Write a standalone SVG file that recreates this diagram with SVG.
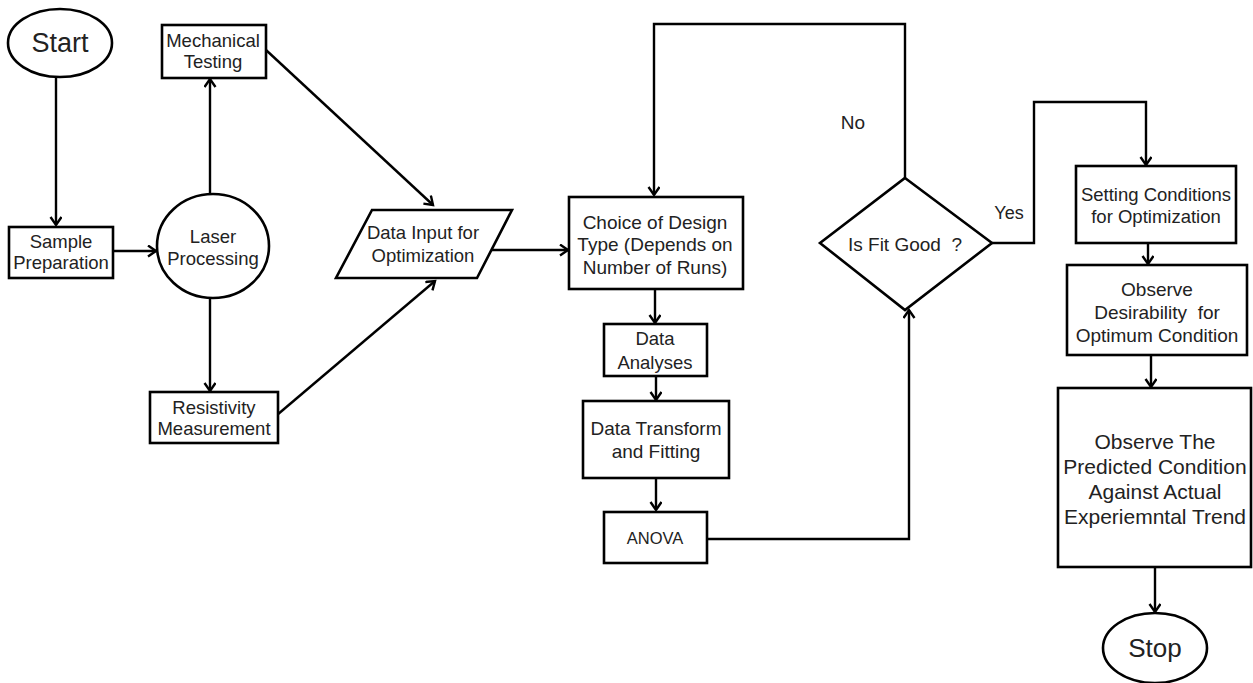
<svg xmlns="http://www.w3.org/2000/svg" width="1253" height="683" viewBox="0 0 1253 683">
<style>
.s{fill:#fff;stroke:#000;stroke-width:2.6}
.c{fill:none;stroke:#000;stroke-width:2.4}
text{font-family:"Liberation Sans",Arial,sans-serif;fill:#222;text-anchor:middle;font-size:18.5px}
</style>
<defs>
<marker id="a" markerUnits="userSpaceOnUse" markerWidth="14" markerHeight="14" refX="10" refY="6" orient="auto">
<path d="M2,0.5 L10,6 L2,11.5" fill="none" stroke="#000" stroke-width="2.4"/>
</marker>
</defs>
<rect width="1253" height="683" fill="#fff"/>
<g id="connectors">
<line class="c" x1="56" y1="77" x2="56" y2="225" marker-end="url(#a)"/>
<line class="c" x1="113" y1="251" x2="156" y2="251" marker-end="url(#a)"/>
<line class="c" x1="210" y1="195" x2="210" y2="79" marker-end="url(#a)"/>
<line class="c" x1="210" y1="298" x2="210" y2="391" marker-end="url(#a)"/>
<line class="c" x1="266" y1="50" x2="433" y2="205" marker-end="url(#a)"/>
<line class="c" x1="277" y1="415" x2="435" y2="281" marker-end="url(#a)"/>
<line class="c" x1="492" y1="250" x2="568" y2="250" marker-end="url(#a)"/>
<line class="c" x1="655" y1="290" x2="655" y2="323" marker-end="url(#a)"/>
<line class="c" x1="656" y1="376" x2="656" y2="400" marker-end="url(#a)"/>
<line class="c" x1="656" y1="478" x2="656" y2="510" marker-end="url(#a)"/>
<polyline class="c" points="707,539 909,539 909,310" marker-end="url(#a)"/>
<polyline class="c" points="905,178 905,24 654,24 654,195" marker-end="url(#a)"/>
<polyline class="c" points="992,243 1034,243 1034,102 1146,102 1146,165" marker-end="url(#a)"/>
<line class="c" x1="1148" y1="243" x2="1148" y2="264" marker-end="url(#a)"/>
<line class="c" x1="1151" y1="355" x2="1151" y2="387" marker-end="url(#a)"/>
<line class="c" x1="1155" y1="567" x2="1155" y2="612" marker-end="url(#a)"/>
<text x="853" y="129" style="font-size:19px">No</text>
<text x="1009" y="219" style="font-size:18px">Yes</text>
</g>
<g id="start">
<ellipse class="s" cx="60" cy="43" rx="52" ry="34"/>
<text x="60" y="52" style="font-size:27px">Start</text>
</g>
<g id="sample">
<rect class="s" x="9" y="227" width="104" height="51"/>
<text x="61" y="248">Sample</text>
<text x="61" y="269">Preparation</text>
</g>
<g id="laser">
<ellipse class="s" cx="213" cy="246" rx="56" ry="52"/>
<text x="213" y="243">Laser</text>
<text x="213" y="265">Processing</text>
</g>
<g id="mechanical">
<rect class="s" x="162" y="25" width="104" height="53"/>
<text x="213" y="47">Mechanical</text>
<text x="213" y="68">Testing</text>
</g>
<g id="resistivity">
<rect class="s" x="150" y="392" width="128" height="51"/>
<text x="214" y="414">Resistivity</text>
<text x="214" y="435">Measurement</text>
</g>
<g id="datainput">
<polygon class="s" points="372,210 512,210 477,278 336,278"/>
<text x="423" y="239">Data Input for</text>
<text x="423" y="262">Optimization</text>
</g>
<g id="choice">
<rect class="s" x="569" y="197" width="174" height="92"/>
<text x="655" y="229" style="font-size:19px">Choice of Design</text>
<text x="655" y="251" style="font-size:19px">Type (Depends on</text>
<text x="655" y="274" style="font-size:19px">Number of Runs)</text>
</g>
<g id="analyses">
<rect class="s" x="604" y="324" width="103" height="52"/>
<text x="655" y="345">Data</text>
<text x="655" y="369">Analyses</text>
</g>
<g id="transform">
<rect class="s" x="583" y="401" width="146" height="77"/>
<text x="656" y="435" style="font-size:19px">Data Transform</text>
<text x="656" y="458" style="font-size:19px">and Fitting</text>
</g>
<g id="anova">
<rect class="s" x="604" y="512" width="103" height="51"/>
<text x="655" y="544" style="font-size:16.5px">ANOVA</text>
</g>
<g id="fit">
<polygon class="s" points="905,178 992,243 905,310 820,243"/>
<text x="905" y="251" style="font-size:19px" xml:space="preserve">Is Fit Good  ?</text>
</g>
<g id="setting">
<rect class="s" x="1076" y="166" width="160" height="77"/>
<text x="1156" y="201">Setting Conditions</text>
<text x="1156" y="223">for Optimization</text>
</g>
<g id="desirability">
<rect class="s" x="1067" y="265" width="180" height="90"/>
<text x="1157" y="296" style="font-size:19px">Observe</text>
<text x="1157" y="319" style="font-size:19px" xml:space="preserve">Desirability  for</text>
<text x="1157" y="342" style="font-size:19px">Optimum Condition</text>
</g>
<g id="predicted">
<rect class="s" x="1058" y="388" width="193" height="179"/>
<text x="1155" y="449" style="font-size:21px">Observe The</text>
<text x="1155" y="474" style="font-size:21px">Predicted Condition</text>
<text x="1155" y="499" style="font-size:21px">Against Actual</text>
<text x="1155" y="524" style="font-size:21px">Experiemntal Trend</text>
</g>
<g id="stop">
<ellipse class="s" cx="1155" cy="648" rx="52" ry="35"/>
<text x="1155" y="657" style="font-size:26px">Stop</text>
</g>
</svg>
